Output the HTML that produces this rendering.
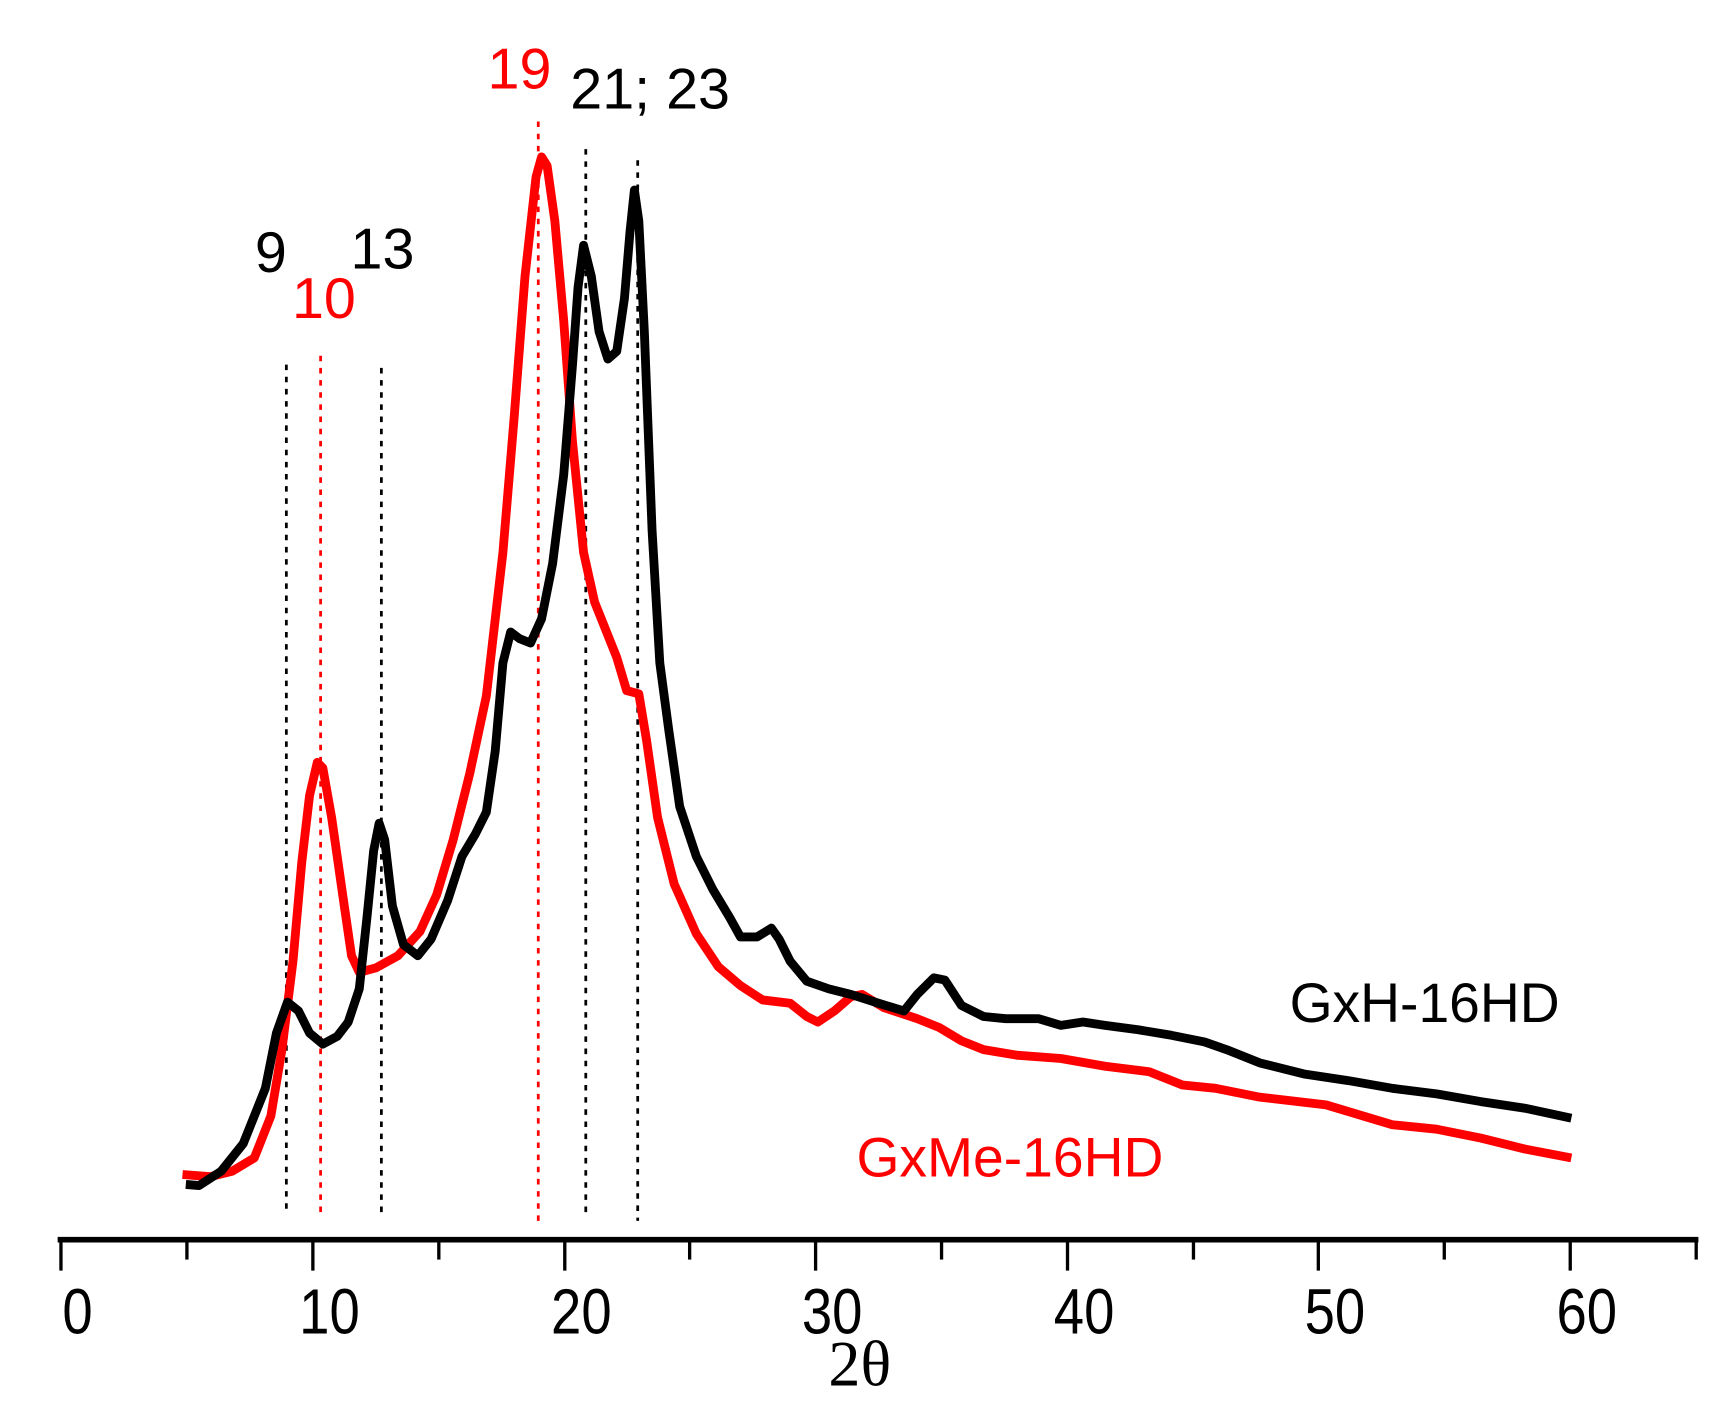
<!DOCTYPE html>
<html><head><meta charset="utf-8"><style>html,body{margin:0;padding:0;background:#fff}svg{display:block}</style></head>
<body>
<svg width="1724" height="1401" viewBox="0 0 1560 1268" xmlns="http://www.w3.org/2000/svg" font-family="Liberation Sans, sans-serif">
<rect width="1560" height="1268" fill="#fff"/>
<g stroke-width="2.5" stroke-dasharray="5,6">
<line x1="259" y1="330" x2="259" y2="1100" stroke="#000"/>
<line x1="290" y1="322" x2="290" y2="1100" stroke="#f00"/>
<line x1="345" y1="333" x2="345" y2="1102" stroke="#000"/>
<line x1="487" y1="110" x2="487" y2="1108" stroke="#f00"/>
<line x1="530" y1="135" x2="530" y2="1100" stroke="#000"/>
<line x1="577" y1="145" x2="577" y2="1105" stroke="#000"/>
</g>
<polyline fill="none" stroke="#f00" stroke-width="8" stroke-linejoin="round" points="165,1063 190,1065 210,1060 230,1048 245,1010 255,950 265,870 273,780 280,720 287,690 292,695 300,740 310,810 318,865 325,880 340,876 360,865 380,843 395,810 410,760 425,700 440,630 455,500 465,380 475,250 485,160 490,142 495,150 502,200 510,290 518,400 528,500 538,545 548,570 558,595 567,625 578,628 585,670 595,740 610,800 630,845 650,875 670,892 690,905 715,908 730,920 740,925 755,915 770,902 780,900 800,912 830,922 850,930 870,942 890,950 920,955 960,958 1000,965 1040,970 1070,982 1100,985 1140,993 1200,1000 1260,1018 1300,1022 1340,1030 1380,1040 1422,1048"/>
<polyline fill="none" stroke="#000" stroke-width="8" stroke-linejoin="round" points="168,1072 180,1073 200,1060 220,1035 240,985 250,935 260,907 270,915 280,935 292,945 305,938 315,925 325,895 332,830 338,770 343,745 348,760 355,820 365,855 378,865 390,850 405,815 418,775 430,755 440,735 448,680 455,600 462,572 470,578 480,582 490,560 500,510 510,430 518,330 523,260 528,222 535,250 542,300 550,325 558,318 565,270 570,210 574,172 578,200 583,300 590,480 597,600 605,660 615,730 630,775 645,805 660,830 670,848 685,848 698,840 705,850 715,870 730,888 750,895 770,900 795,908 818,915 830,900 845,885 855,887 870,910 890,920 910,922 940,922 960,928 980,925 1000,928 1030,932 1060,937 1090,943 1110,950 1140,962 1180,972 1220,978 1260,985 1300,990 1340,997 1380,1003 1422,1012"/>
<line x1="52" y1="1122" x2="1537" y2="1122" stroke="#000" stroke-width="5"/>
<g stroke="#000" stroke-width="3">
<line x1="55" y1="1122" x2="55" y2="1150"/><line x1="169" y1="1122" x2="169" y2="1140"/>
<line x1="283" y1="1122" x2="283" y2="1150"/><line x1="397" y1="1122" x2="397" y2="1140"/>
<line x1="511" y1="1122" x2="511" y2="1150"/><line x1="624" y1="1122" x2="624" y2="1140"/>
<line x1="738" y1="1122" x2="738" y2="1150"/><line x1="852" y1="1122" x2="852" y2="1140"/>
<line x1="966" y1="1122" x2="966" y2="1150"/><line x1="1080" y1="1122" x2="1080" y2="1140"/>
<line x1="1193" y1="1122" x2="1193" y2="1150"/><line x1="1307" y1="1122" x2="1307" y2="1140"/>
<line x1="1421" y1="1122" x2="1421" y2="1150"/><line x1="1535" y1="1122" x2="1535" y2="1140"/>
</g>
<g font-size="58" text-anchor="middle" fill="#000">
<text transform="translate(70,1207) scale(0.85,1)">0</text><text transform="translate(298,1207) scale(0.85,1)">10</text><text transform="translate(526,1207) scale(0.85,1)">20</text>
<text transform="translate(753,1207) scale(0.85,1)">30</text><text transform="translate(981,1207) scale(0.85,1)">40</text><text transform="translate(1208,1207) scale(0.85,1)">50</text><text transform="translate(1436,1207) scale(0.85,1)">60</text>
</g>
<text x="778" y="1254" font-family="Liberation Serif, serif" font-size="58" text-anchor="middle">2θ</text>
<g font-size="52">
<text x="245" y="246" text-anchor="middle">9</text>
<text x="293" y="288" text-anchor="middle" fill="#f00">10</text>
<text x="346" y="243" text-anchor="middle">13</text>
<text x="470" y="80" text-anchor="middle" fill="#f00">19</text>
<text x="516" y="98">21; 23</text>
<text x="1167" y="925" font-size="50">GxH-16HD</text>
<text x="775" y="1065" font-size="50" fill="#f00">GxMe-16HD</text>
</g>
</svg>
</body></html>
